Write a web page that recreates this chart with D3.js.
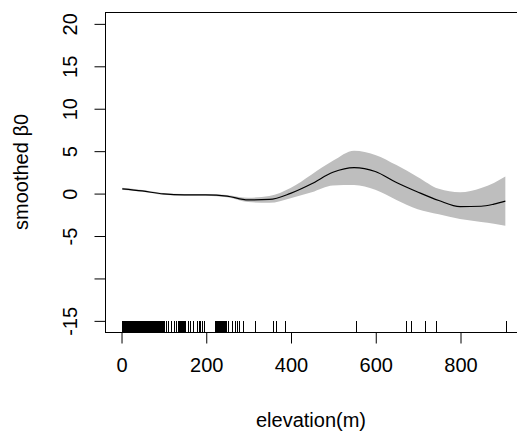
<!DOCTYPE html>
<html>
<head>
<meta charset="utf-8">
<script src="https://cdn.jsdelivr.net/npm/d3@7"></script>
<style>
  html, body { margin: 0; padding: 0; background: #fff; }
  svg { display: block; }
  text { font-family: "Liberation Sans", Arial, sans-serif; fill: #000; }
</style>
</head>
<body>
<svg id="chart" width="517" height="437"></svg>
<script>
// ---- data ----
const elevation = [3, 50, 100, 150, 200, 250, 300, 350, 400, 450, 500, 550, 600, 650, 700, 750, 800, 850, 880, 907];
const fit       = [0.5, 0.25, -0.1, -0.2, -0.2, -0.35, -0.8, -0.75, -0.03, 1.1, 2.45, 3.0, 2.55, 1.25, 0.13, -0.88, -1.6, -1.55, -1.3, -0.95];
const upper     = [0.62, 0.35, 0.0, -0.1, -0.1, -0.22, -0.55, -0.35, 0.6, 2.2, 3.8, 5.0, 4.5, 3.3, 1.9, 0.5, 0.1, 0.6, 1.2, 1.95];
const lower     = [0.38, 0.15, -0.2, -0.3, -0.3, -0.48, -1.05, -1.15, -0.6, 0.1, 0.9, 0.95, 0.4, -0.8, -1.9, -2.5, -3.05, -3.4, -3.6, -3.85];
const rugElev   = [2, 3, 4, 5, 7, 8, 9, 11, 12, 13, 14, 16, 17, 18, 20, 21, 22, 24, 25, 27, 28, 29, 31, 32, 33, 35, 36, 38, 39, 40, 42, 43, 44, 46, 47, 49, 50, 51, 53, 54, 55, 57, 58, 60, 61, 62, 64, 65, 66, 68, 69, 71, 72, 73, 75, 76, 77, 79, 80, 82, 83, 84, 86, 87, 88, 90, 91, 93, 94, 95, 97, 98, 99, 101,
                   106, 112, 118, 124, 130, 135, 137, 139, 141, 143, 145, 147, 149, 151, 157, 163, 169, 171, 180, 183, 186, 192, 197,
                   222, 224, 226, 228, 230, 232, 234, 236, 238, 240, 242, 244, 246, 248, 253, 261, 268, 273, 279, 287,
                   316, 358, 365, 386, 555, 673, 685, 718, 744, 909];
const xTicks = [0, 200, 400, 600, 800];
const yTicks = [-15, -10, -5, 0, 5, 10, 15, 20];
const yTickLabels = ["-15", "", "-5", "0", "5", "10", "15", "20"];
const xTitle = "elevation(m)";
const yTitle = "smoothed \u03B20";

// ---- layout ----
const svg = d3.select("#chart");
const plot = { left: 105, right: 517, top: 12, bottom: 332 };
const fontSize = 20;

const x = d3.scaleLinear().domain([-37.8, 934.5]).range([plot.left, plot.right]);
const y = d3.scaleLinear().domain([-16.37, 21.34]).range([plot.bottom, plot.top]);

const rows = elevation.map((e, i) => ({ e, f: fit[i], u: upper[i], l: lower[i] }));

// confidence band
svg.append("path")
  .datum(rows)
  .attr("fill", "#bebebe")
  .attr("stroke", "none")
  .attr("d", d3.area()
    .curve(d3.curveMonotoneX)
    .x(d => x(d.e))
    .y0(d => y(d.l))
    .y1(d => y(d.u)));

// fitted line
svg.append("path")
  .datum(rows)
  .attr("fill", "none")
  .attr("stroke", "#000")
  .attr("stroke-width", 1.2)
  .attr("d", d3.line()
    .curve(d3.curveMonotoneX)
    .x(d => x(d.e))
    .y(d => y(d.f)));

// rug
svg.append("g")
  .selectAll("line")
  .data(rugElev)
  .join("line")
  .attr("x1", d => Math.round(x(d)) + 0.5)
  .attr("x2", d => Math.round(x(d)) + 0.5)
  .attr("y1", plot.bottom - 11)
  .attr("y2", plot.bottom)
  .attr("stroke", "#000")
  .attr("stroke-width", 1);

// box
svg.append("rect")
  .attr("x", plot.left + 0.5)
  .attr("y", plot.top + 0.5)
  .attr("width", plot.right - plot.left)
  .attr("height", plot.bottom - plot.top)
  .attr("fill", "none")
  .attr("stroke", "#000")
  .attr("stroke-width", 1);

// x axis
const xAxis = d3.axisBottom(x).tickValues(xTicks).tickSize(11).tickPadding(14).tickFormat(d3.format("d"));
const gx = svg.append("g")
  .attr("transform", `translate(0.5,${plot.bottom + 0.5})`)
  .call(xAxis);
gx.select(".domain").remove();
gx.selectAll(".tick line").attr("stroke", "#000");
gx.selectAll(".tick text")
  .attr("font-size", fontSize)
  .attr("font-family", "Liberation Sans, Arial, sans-serif")
  .attr("fill", "#000");

// y axis
const yAxis = d3.axisLeft(y).tickValues(yTicks).tickSize(11)
  .tickFormat((d, i) => yTickLabels[i]);
const gy = svg.append("g")
  .attr("transform", `translate(${plot.left + 0.5},0.5)`)
  .call(yAxis);
gy.select(".domain").remove();
gy.selectAll(".tick line").attr("stroke", "#000");
gy.selectAll(".tick text")
  .attr("font-size", fontSize)
  .attr("font-family", "Liberation Sans, Arial, sans-serif")
  .attr("fill", "#000")
  .attr("text-anchor", "middle")
  .attr("dy", null)
  .attr("x", null)
  .attr("transform", "translate(-29,0) rotate(-90)");

// titles
svg.append("text")
  .attr("x", 311)
  .attr("y", 427)
  .attr("text-anchor", "middle")
  .attr("font-size", fontSize)
  .text(xTitle);

svg.append("text")
  .attr("transform", "translate(28,172) rotate(-90)")
  .attr("text-anchor", "middle")
  .attr("font-size", fontSize)
  .text(yTitle);
</script>
</body>
</html>
